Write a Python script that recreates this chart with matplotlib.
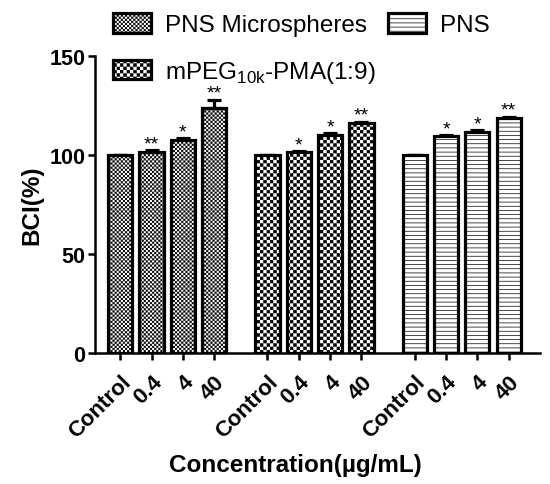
import numpy as np
import matplotlib
matplotlib.use("Agg")
import matplotlib.pyplot as plt
import matplotlib.hatch as mhatch
from matplotlib.path import Path

plt.rcParams['font.family'] = ['Liberation Sans', 'DejaVu Sans']
plt.rcParams['hatch.linewidth'] = 0.5

# data
doses = ["Control", "0.4", "4", "40"]
groups = ["PNS Microspheres", r"mPEG$_{\mathregular{10k}}$-PMA(1:9)", "PNS"]
bci_micro = [100, 101.5, 107.5, 123.5]
err_micro = [0, 1.0, 1.0, 4.5]
bci_mpeg = [100, 101.3, 110.3, 116.0]
err_mpeg = [0, 0.5, 0.8, 0.8]
bci_pns = [100, 109.5, 111.8, 118.7]
err_pns = [0, 0.6, 0.6, 0.7]
stars_micro = ["", "**", "*", "**"]
stars_mpeg = ["", "*", "*", "**"]
stars_pns = ["", "*", "*", "**"]


# checkerboard hatch, used in place of the '*' star hatch
class Checker(mhatch.HatchPatternBase):
    def __init__(self, hatch, density):
        self.n = hatch.count('*') * density
        self.num_vertices = 5 * (self.n * self.n // 2)

    def set_vertices_and_codes(self, vertices, codes):
        n = self.n
        c = 1.0 / n
        inset = 0.0035
        k = 0
        for i in range(n):
            for j in range(n):
                if (i + j) % 2:
                    continue
                x0, y0 = i * c + inset, j * c + inset
                x1, y1 = (i + 1) * c - inset, (j + 1) * c - inset
                vertices[k:k + 5] = [(x0, y0), (x1, y0), (x1, y1), (x0, y1), (x0, y0)]
                codes[k:k + 5] = [Path.MOVETO, Path.LINETO, Path.LINETO,
                                  Path.LINETO, Path.CLOSEPOLY]
                k += 5


mhatch._hatch_types = [h for h in mhatch._hatch_types if h is not mhatch.Stars] + [Checker]

values = [bci_micro, bci_mpeg, bci_pns]
errors = [err_micro, err_mpeg, err_pns]
stars = [stars_micro, stars_mpeg, stars_pns]
hatches = ['********', '*****', '----']

fig = plt.figure(figsize=(5.5, 4.85), dpi=100)
ax = fig.add_axes([0.173, 0.27, 0.809, 0.6125])

step = 4.7
handles = []
ticks, ticklabels = [], []
for g in range(3):
    x = np.arange(4) + g * step
    b = ax.bar(x, values[g], width=0.77, color='white', edgecolor='black',
               linewidth=2.3, hatch=hatches[g], label=groups[g], zorder=2)
    ax.errorbar(x, values[g], yerr=[np.zeros(4), errors[g]], fmt='none',
                ecolor='black', elinewidth=2.3, capsize=5, capthick=2.3, zorder=1)
    for xi, v, e, s in zip(x, values[g], errors[g], stars[g]):
        if s:
            ax.annotate(s, (xi, v + e), xytext=(0, -1.5), textcoords='offset points',
                        ha='center', va='bottom', fontsize=14)
    handles.append(b)
    ticks += list(x)
    ticklabels += doses

ax.set_xlim(-0.8, 13.4)
ax.set_ylim(0, 150)
ax.set_yticks([0, 50, 100, 150])
ax.set_xticks(ticks)
ax.set_xticklabels(ticklabels, rotation=45, ha='right', rotation_mode='anchor',
                   fontsize=16, fontweight='bold')
for lab in ax.get_yticklabels():
    lab.set_fontsize(15.5)
    lab.set_fontweight('bold')
ax.spines['top'].set_visible(False)
ax.spines['right'].set_visible(False)
ax.spines['left'].set_linewidth(1.8)
ax.spines['bottom'].set_linewidth(1.8)
ax.tick_params(axis='y', width=1.8, length=5, pad=2)
ax.tick_params(axis='x', width=1.8, length=5, pad=8)
ax.set_ylabel("BCI(%)", fontsize=17.5, fontweight='bold', labelpad=4)
ax.set_xlabel("Concentration(µg/mL)", fontsize=17.5, fontweight='bold', labelpad=2)
ax.xaxis.set_label_coords((295 - 95) / 445, -0.335)

fig.legend(handles, groups,
           ncol=2, loc='upper left', bbox_to_anchor=(101 / 550, 1 - 2 / 485),
           frameon=False, fontsize=17.5, handlelength=1.55, handleheight=0.85,
           columnspacing=0.5, handletextpad=0.6, labelspacing=0.93, borderpad=0)

fig.savefig("out.png", dpi=100)
